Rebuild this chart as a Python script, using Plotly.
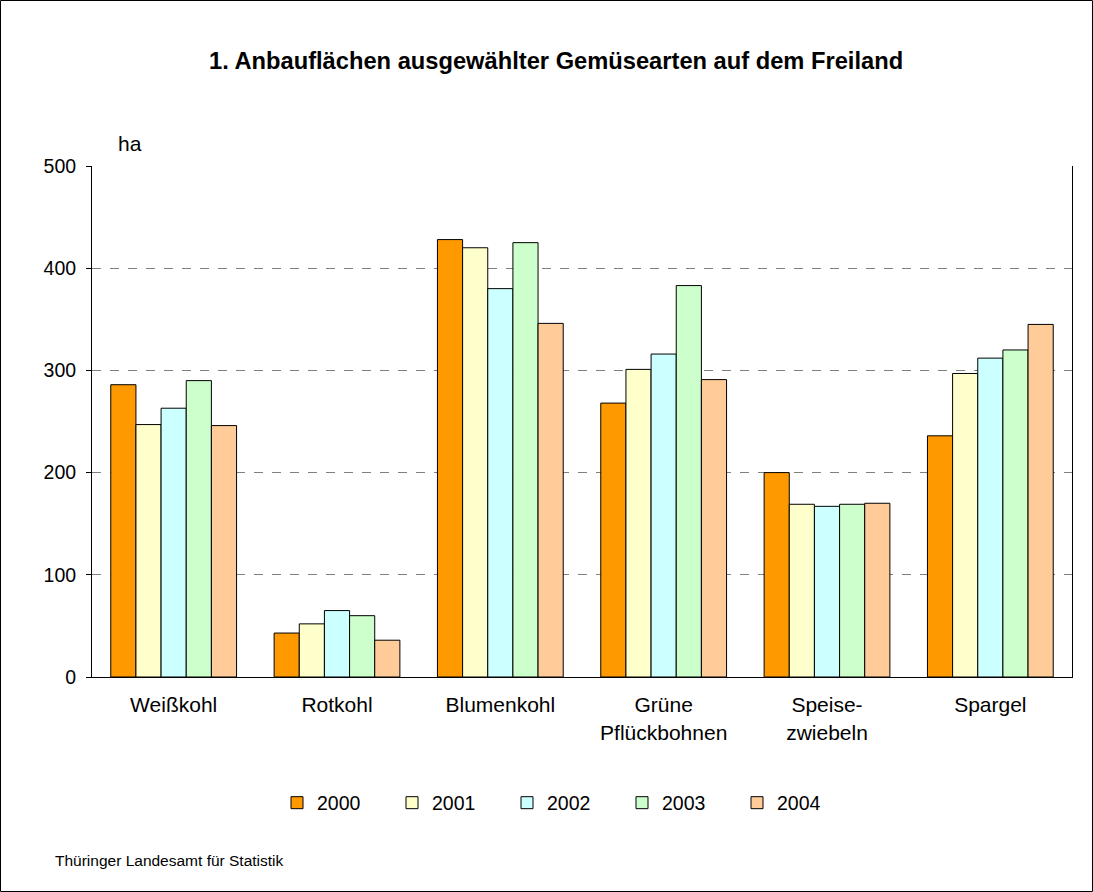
import plotly.graph_objects as go

categories = ["Weißkohl", "Rotkohl", "Blumenkohl", "Grüne<br>Pflückbohnen", "Speise-<br>zwiebeln", "Spargel"]
years = ["2000", "2001", "2002", "2003", "2004"]
v2000 = [286, 43, 428, 268, 200, 236]
v2001 = [247, 52, 420, 301, 169, 297]
v2002 = [263, 65, 380, 316, 167, 312]
v2003 = [290, 60, 425, 383, 169, 320]
v2004 = [246, 36, 346, 291, 170, 345]
values = [v2000, v2001, v2002, v2003, v2004]
colors = ["#FF9900", "#FFFFCC", "#CCFFFF", "#CCFFCC", "#FFCC99"]
y_ticks = [0, 100, 200, 300, 400, 500]

FONT = "Liberation Sans, Arial, sans-serif"

fig = go.Figure()
for yr, vals, col in zip(years, values, colors):
    fig.add_trace(go.Bar(
        x=categories, y=vals, name=yr,
        marker=dict(color=col, line=dict(color="#000000", width=1)),
    ))

W, H = 1093, 892
L, R, T, B = 92, 21, 166, 215
pw, ph = W - L - R, H - T - B

def px_x(p):
    return (p - L) / pw

def px_y(p):
    return (H - B - p) / ph

fig.update_layout(
    width=W, height=H,
    margin=dict(l=L, r=R, t=T, b=B),
    paper_bgcolor="white", plot_bgcolor="white",
    font=dict(family=FONT, size=20, color="#000000"),
    barmode="group", bargap=0.23, bargroupgap=0,
    showlegend=True,
    legend=dict(
        orientation="h", x=px_x(277), y=px_y(803), xanchor="left", yanchor="middle",
        entrywidth=70, entrywidthmode="pixels", itemwidth=30,
        font=dict(size=19.5), traceorder="normal",
    ),
    xaxis=dict(
        showline=True, linecolor="#000000", linewidth=1, mirror=False,
        ticks="", tickfont=dict(size=21), showgrid=False, ticklabelstandoff=9,
    ),
    yaxis=dict(
        range=[0, 500], tickvals=y_ticks, ticktext=[str(t) for t in y_ticks],
        showline=True, linecolor="#000000", linewidth=1, mirror=True,
        ticks="outside", ticklen=5, tickcolor="#000000",
        showgrid=True, gridcolor="#808080", griddash="dash", gridwidth=1,
        tickfont=dict(size=19.5), zeroline=False, ticklabelstandoff=6,
    ),
    annotations=[
        dict(text="<b>1. Anbauflächen ausgewählter Gemüsearten auf dem Freiland</b>",
             xref="paper", yref="paper", x=px_x(556), y=px_y(61),
             xanchor="center", yanchor="middle", showarrow=False, font=dict(size=23.7)),
        dict(text="ha", xref="paper", yref="paper", x=px_x(116), y=px_y(144),
             xanchor="left", yanchor="middle", showarrow=False, font=dict(size=21)),
        dict(text="Thüringer Landesamt für Statistik", xref="paper", yref="paper",
             x=px_x(53), y=px_y(860), xanchor="left", yanchor="middle",
             showarrow=False, font=dict(size=15.5)),
    ],
    shapes=[
        dict(type="rect", xref="paper", yref="paper",
             x0=px_x(0.5), x1=px_x(1092.5), y0=px_y(891.5), y1=px_y(0.5),
             line=dict(color="#000000", width=1), fillcolor="rgba(0,0,0,0)", layer="above"),
    ],
)

fig.write_html("out.html", config={"displayModeBar": False},
               post_script="document.body.style.margin='0';document.body.style.padding='0';")
